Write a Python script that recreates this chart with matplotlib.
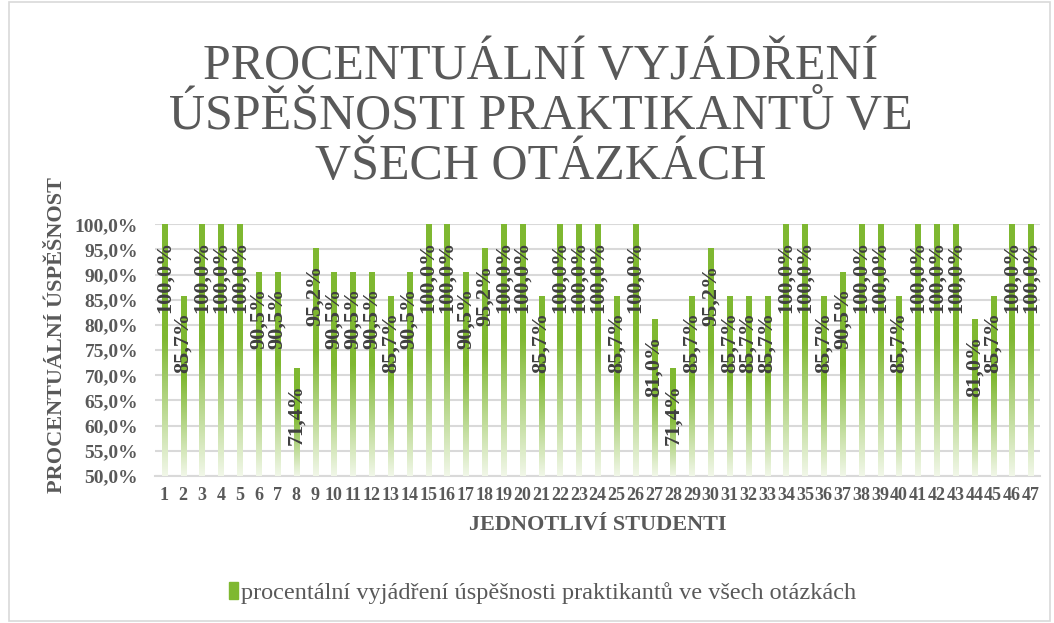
import numpy as np
import matplotlib.pyplot as plt
from matplotlib.colors import LinearSegmentedColormap
from matplotlib.patches import Rectangle

plt.rcParams['font.family'] = ['Liberation Serif', 'DejaVu Serif']

students = list(range(1, 48))
success = [100.0, 85.7, 100.0, 100.0, 100.0, 90.5, 90.5, 71.4, 95.2, 90.5,
           90.5, 90.5, 85.7, 90.5, 100.0, 100.0, 90.5, 95.2, 100.0, 100.0,
           85.7, 100.0, 100.0, 100.0, 85.7, 100.0, 81.0, 71.4, 85.7, 95.2,
           85.7, 85.7, 85.7, 100.0, 100.0, 85.7, 90.5, 100.0, 100.0, 85.7,
           100.0, 100.0, 100.0, 81.0, 85.7, 100.0, 100.0]
yticks = np.arange(50, 101, 5)

title = 'PROCENTUÁLNÍ VYJÁDŘENÍ\nÚSPĚŠNOSTI PRAKTIKANTŮ VE\nVŠECH OTÁZKÁCH'
series_name = 'procentální vyjádření úspěšnosti praktikantů ve všech otázkách'

grey = '#595959'
green = '#7fb831'

fig = plt.figure(figsize=(10.54, 6.23), dpi=100)
fig.patches.append(Rectangle((0.009, 0.004), 0.987, 0.992, transform=fig.transFigure,
                             fill=False, edgecolor='#d9d9d9', linewidth=1.2))
ax = fig.add_axes([0.147, 0.236, 0.840, 0.404])

bars = ax.bar(students, [v - 50 for v in success], bottom=50, width=0.27,
              color=green, zorder=2)

# vertical gradient for each bar: solid at top, fading towards the bottom
cmap = LinearSegmentedColormap.from_list('g', [(0, '#f1f7e8'), (0.55, green), (1, green)])
grad = np.linspace(0, 1, 256).reshape(-1, 1)
for b in bars:
    x0 = b.get_x()
    ax.imshow(grad, extent=(x0, x0 + b.get_width(), 50, 50 + b.get_height()),
              origin='lower', cmap=cmap, aspect='auto', zorder=3)
    b.set_alpha(0)

for x, v in zip(students, success):
    ax.annotate(f'{v:.1f}%'.replace('.', ','), (x, v), xytext=(0, -16),
                textcoords='offset pixels', rotation=90, ha='center', va='top',
                fontsize=16, fontweight='bold', color='#404040', zorder=4)

ax.set_xlim(0.5, 47.5)
ax.set_ylim(50, 100)
ax.set_yticks(yticks)
ax.set_yticklabels([f'{t:.1f}%'.replace('.', ',') for t in yticks])
ax.set_xticks(students)
ax.grid(axis='y', color='#d9d9d9', linewidth=1.5, zorder=0)
for s in ['top', 'right', 'left']:
    ax.spines[s].set_visible(False)
ax.spines['bottom'].set_color('#d9d9d9')
ax.spines['bottom'].set_linewidth(1.5)
ax.tick_params(length=0, labelcolor=grey)
ax.tick_params(axis='x', pad=8, labelsize=13)
ax.tick_params(axis='y', pad=12, labelsize=14)
for lab in ax.get_xticklabels() + ax.get_yticklabels():
    lab.set_fontweight('bold')

ax.set_xlabel('JEDNOTLIVÍ STUDENTI', fontsize=16, fontweight='bold', color=grey, labelpad=8)
ax.set_ylabel('PROCENTUÁLNÍ ÚSPĚŠNOST', fontsize=16, fontweight='bold', color=grey)
ax.yaxis.set_label_coords(-0.099, 0.56)

fig.text(0.513, 0.813, title, ha='center', va='center', fontsize=36, color=grey,
         linespacing=1.1)

handle = Rectangle((0, 0), 1, 1, color=green)
fig.legend([handle], [series_name], loc='center', bbox_to_anchor=(0.515, 0.048),
           frameon=False, fontsize=17.5, handlelength=0.35, handleheight=0.7,
           handletextpad=0.15, labelcolor=grey)

fig.savefig('out.png', dpi=100)
